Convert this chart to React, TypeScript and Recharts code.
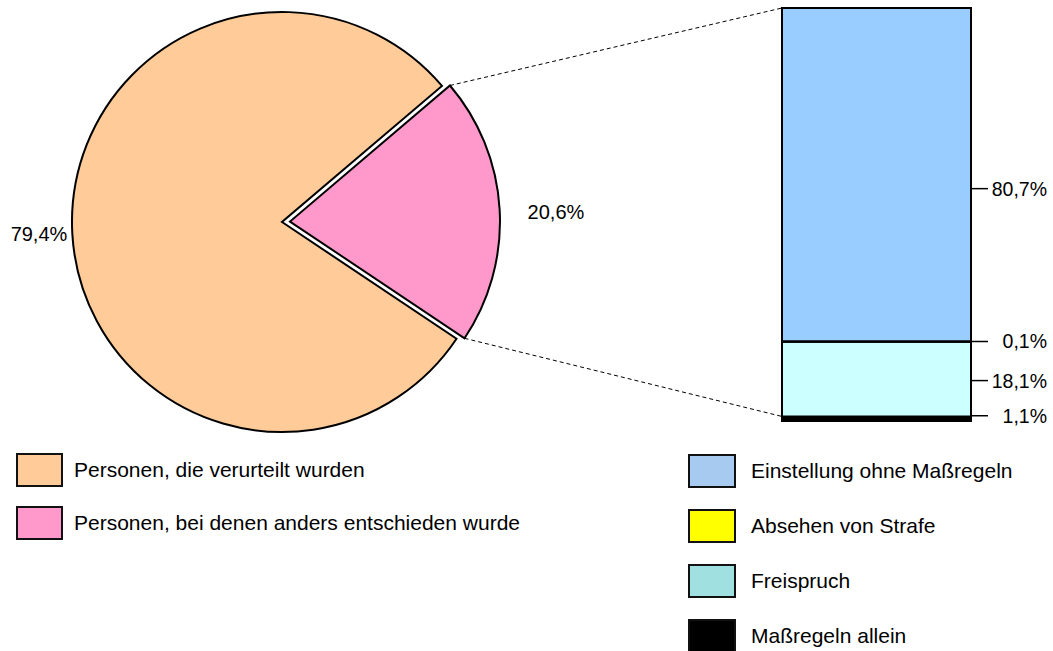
import React from 'react';
import { PieChart, Pie, Cell, BarChart, Bar, XAxis, YAxis } from 'recharts';

// pie: "other decisions" slice first so it sits on the right
const pieNames = ['Personen, bei denen anders entschieden wurde', 'Personen, die verurteilt wurden'];
const pieValues = [20.6, 79.4];
const pieColors = ['#FF99CC', '#FFCC99'];
const pieLegendOrder = [1, 0];

// breakdown bar, bottom to top
const barNames = ['Maßregeln allein', 'Freispruch', 'Absehen von Strafe', 'Einstellung ohne Maßregeln'];
const barValues = [1.1, 18.1, 0.1, 80.7];
const barColors = ['#000000', '#CCFFFF', '#FFFF00', '#99CCFF'];
const barLegendColors = ['#000000', '#A0E0E0', '#FFFF00', '#A6CAF0'];
const barLegendOrder = [3, 2, 1, 0];

const FONT = '"Liberation Sans", Arial, Helvetica, sans-serif';
const RAD = Math.PI / 180;

const fmt = (v: number) => v.toFixed(1).replace('.', ',') + '%';

// pie geometry
const PIE_CX = 282;
const PIE_CY = 222;
const PIE_R = 210;
const PINK_MID = 3.3;
const EXPLODE = 8;
const pieTotal = pieValues.reduce((a, b) => a + b, 0);
const pinkSweep = (pieValues[0] / pieTotal) * 360;
const startAngle = PINK_MID - pinkSweep / 2;
const pinkCx = PIE_CX + EXPLODE * Math.cos(PINK_MID * RAD);
const pinkCy = PIE_CY - EXPLODE * Math.sin(PINK_MID * RAD);
const pieLabelGap = [28, 5];
const pieLabelDy = [4, 0];

// bar geometry
const BAR_BOX = { left: 760, top: 0, width: 293, height: 440 };
const BAR_MARGIN = { top: 8, right: 82, bottom: 19, left: 22 };
const barLeft = BAR_BOX.left + BAR_MARGIN.left;
const barTop = BAR_BOX.top + BAR_MARGIN.top;
const barH = BAR_BOX.height - BAR_MARGIN.top - BAR_MARGIN.bottom;
const barY = (pctFromBottom: number) => barTop + barH * (1 - pctFromBottom / 100);
const barLabelShift = [-3, 1.5, 0, 14];

const barRow: Record<string, number | string> = { name: 'Entscheidung' };
barValues.forEach((v, i) => { barRow['s' + i] = v; });
const barData = [barRow];

const pieData = pieNames.map((name, i) => ({ name, value: pieValues[i] }));

const pieLabel = (visible: number) => (props: any) => {
  if (props.index !== visible) return null;
  const r = props.outerRadius + pieLabelGap[visible];
  const x = props.cx + r * Math.cos(-props.midAngle * RAD);
  const y = props.cy + r * Math.sin(-props.midAngle * RAD) + pieLabelDy[visible];
  return (
    <text x={x} y={y} textAnchor={visible === 0 ? 'start' : 'end'} dominantBaseline="central"
      fontSize={20} fontFamily={FONT} fill="#000">
      {fmt(pieValues[visible])}
    </text>
  );
};

const barLabel = (i: number) => (props: any) => {
  const x0 = Number(props.x) + Number(props.width);
  const yy = Number(props.y) + Number(props.height) / 2 + barLabelShift[i];
  return (
    <g>
      <line x1={x0} x2={x0 + 17} y1={yy} y2={yy} stroke="#000" strokeWidth={1.5} />
      <text x={x0 + 76} y={yy} textAnchor="end" dominantBaseline="central"
        fontSize={19.5} fontFamily={FONT} fill="#000">
        {fmt(barValues[i])}
      </text>
    </g>
  );
};

const corner = (angle: number) => ({
  x: pinkCx + PIE_R * Math.cos(angle * RAD),
  y: pinkCy - PIE_R * Math.sin(angle * RAD),
});

const LegendItem: React.FC<{ color: string; label: string; left: number; top: number; boxW: number; gap: number }> = ({ color, label, left, top, boxW, gap }) => (
  <div style={{ position: 'absolute', left, top, display: 'flex', alignItems: 'center', height: 34 }}>
    <div style={{ width: boxW, height: 34, boxSizing: 'border-box', background: color, border: '2px solid #111' }} />
    <span style={{ marginLeft: gap, fontSize: 21, color: '#000', whiteSpace: 'nowrap' }}>{label}</span>
  </div>
);

const App: React.FC = () => {
  const topCorner = corner(startAngle + pinkSweep);
  const bottomCorner = corner(startAngle);

  return (
    <div style={{ position: 'absolute', left: 0, top: 0, width: 1053, height: 651, background: '#fff', fontFamily: FONT, overflow: 'hidden' }}>
      <div style={{ position: 'absolute', left: 0, top: 0 }}>
        <PieChart width={700} height={445} margin={{ top: 0, right: 0, bottom: 0, left: 0 }}>
          <Pie data={pieData} dataKey="value" nameKey="name" cx={PIE_CX} cy={PIE_CY} outerRadius={PIE_R}
            startAngle={startAngle} endAngle={startAngle + 360} labelLine={false} label={pieLabel(1)}
            isAnimationActive={false}>
            {pieData.map((_, i) => (
              <Cell key={i} fill={i === 1 ? pieColors[1] : 'none'} stroke={i === 1 ? '#000' : 'none'} strokeWidth={2} />
            ))}
          </Pie>
          <Pie data={pieData} dataKey="value" nameKey="name" cx={pinkCx} cy={pinkCy} outerRadius={PIE_R}
            startAngle={startAngle} endAngle={startAngle + 360} labelLine={false} label={pieLabel(0)}
            isAnimationActive={false}>
            {pieData.map((_, i) => (
              <Cell key={i} fill={i === 0 ? pieColors[0] : 'none'} stroke={i === 0 ? '#000' : 'none'} strokeWidth={2} />
            ))}
          </Pie>
        </PieChart>
      </div>

      <div style={{ position: 'absolute', left: BAR_BOX.left, top: BAR_BOX.top }}>
        <BarChart width={BAR_BOX.width} height={BAR_BOX.height} data={barData} margin={BAR_MARGIN}
          barCategoryGap={0}>
          <XAxis dataKey="name" hide />
          <YAxis type="number" domain={[0, 100]} hide />
          {barValues.map((_, i) => (
            <Bar key={i} dataKey={'s' + i} stackId="a" fill={barColors[i]} stroke="#000" strokeWidth={2}
              label={barLabel(i)} isAnimationActive={false} />
          ))}
        </BarChart>
      </div>

      <svg width={1053} height={651} style={{ position: 'absolute', left: 0, top: 0, pointerEvents: 'none' }}>
        <line x1={topCorner.x} y1={topCorner.y} x2={barLeft} y2={barTop} stroke="#000" strokeWidth={1} strokeDasharray="4 3" />
        <line x1={bottomCorner.x} y1={bottomCorner.y} x2={barLeft} y2={barY(barValues[0])} stroke="#000" strokeWidth={1} strokeDasharray="4 3" />
      </svg>

      {pieLegendOrder.map((idx, k) => (
        <LegendItem key={'p' + idx} color={pieColors[idx]} label={pieNames[idx]} left={16} top={453 + k * 53} boxW={47} gap={11} />
      ))}
      {barLegendOrder.map((idx, k) => (
        <LegendItem key={'b' + idx} color={barLegendColors[idx]} label={barNames[idx]} left={688} top={454 + k * 55} boxW={48} gap={15} />
      ))}
    </div>
  );
};

export default App;
